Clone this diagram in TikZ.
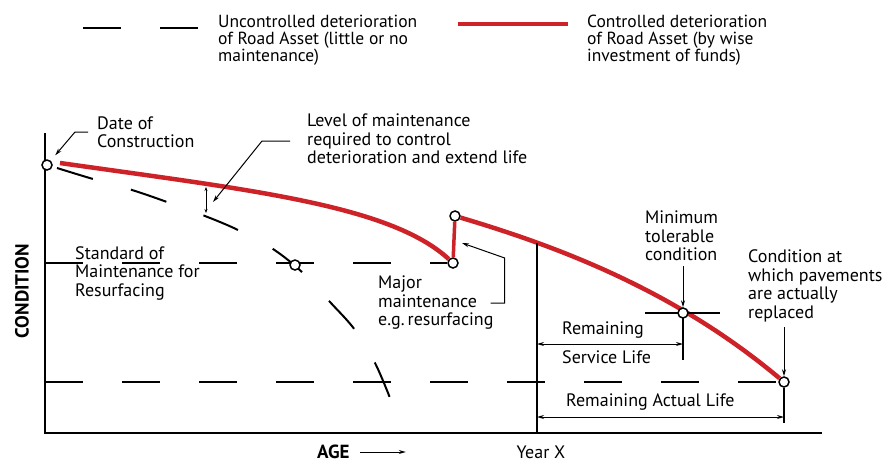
\documentclass[tikz,border=0pt]{standalone}
\usepackage{fontspec}
\setmainfont{PT Sans}
\usepackage{tikz}
\usetikzlibrary{arrows.meta,positioning,calc}
\definecolor{roadred}{RGB}{204,34,40}

\begin{document}
\begin{tikzpicture}[x=1pt,y=-1pt,
  lbl/.style={font=\fontsize{18}{18.5}\selectfont, align=left, anchor=west, inner sep=0pt},
  keylbl/.style={lbl, font=\fontsize{17.5}{17}\selectfont},
  bigcaps/.style={font=\bfseries\fontsize{19}{19}\selectfont, inner sep=0pt},
  ring/.style={circle, draw, line width=1.5pt, fill=white, minimum size=10pt, inner sep=0pt},
  gone/.style={line width=2pt, dash pattern=on 38pt off 39pt},
  kept/.style={line width=4.5pt, roadred},
  leader/.style={line width=1pt, -{Stealth[length=7pt,width=4pt]}},
  dimline/.style={line width=1pt, {Stealth[length=7pt,width=4pt]}-{Stealth[length=7pt,width=4pt]}},
  tickline/.style={line width=1.4pt}]
  \useasboundingbox (0,0) rectangle (892,463);

  % Legend
  \draw[gone] (83,28) -- (199,28);
  \node[keylbl] (keygone) at (218,40) {Uncontrolled deterioration\\of Road Asset (little or no\\maintenance)};
  \draw[kept] (458,24) -- (568,24);
  \node[keylbl] (keykept) at (587,40) {Controlled deterioration\\of Road Asset (by wise\\investment of funds)};

  % Axes
  \coordinate (axtop) at (45,133);
  \coordinate (origin) at (45,433);
  \coordinate (axend) at (822,433);
  \draw[line width=2.2pt] (axtop) -- (origin) -- (axend);
  \node[bigcaps, rotate=90] (condtxt) at (22,291) {CONDITION};
  \node[bigcaps, anchor=west] (agetxt) at (317,452) {AGE};
  \draw[leader] ([xshift=10pt]agetxt.east) -- ++(46,0);
  \node[lbl, anchor=center] (yeartxt) at (541,452) {Year X};

  % Points on the curves
  \node[ring] (built) at (47,165) {};
  \node[ring] (resurf) at (453,263) {};
  \node[ring] (renewed) at (455,216) {};
  \node[ring] (replaced) at (784,382) {};

  % Standard and replacement levels
  \draw[gone] (45,263) -- (resurf);
  \draw[gone] (45,382) -- (replaced);

  % Uncontrolled deterioration
  \draw[gone, dash pattern=on 37.5pt off 39.5pt] plot[smooth, tension=0.6] coordinates {(57,168) (93,179) (132,190) (167,202) (205,216) (238,230) (273,249) (303,273) (330,302) (355,330) (375,363) (390,398)};

  % Controlled deterioration
  \draw[kept] (60,163) .. controls (250,190) and (390,205) .. (resurf);
  \draw[kept, line width=3.5pt] (resurf) -- (renewed);
  \draw[kept] (renewed) .. controls (570,250) and (680,295) .. (replaced);

  % Year X
  \coordinate (yeartop) at (537,243);
  \draw[line width=1.6pt] (yeartop) -- (yeartop |- origin);

  % Minimum tolerable condition
  \coordinate (tolleft) at (645,313);
  \coordinate (tolright) at (720,313);
  \coordinate (tolfoot) at (683,360);
  \draw[tickline] (tolleft) -- (tolright);
  \draw[tickline] (683,313) -- (tolfoot);
  \node[ring] (mintol) at (683,313) {};
  \node[lbl] (mintxt) at (645,236) {Minimum\\tolerable\\condition};
  \draw[leader] ($(mintol |- mintxt.south)+(0,5)$) -- (mintol);

  % Replaced
  \coordinate (replfoot) at (784,423);
  \draw[tickline] (replaced) -- (replfoot);
  \node[lbl] (repltxt) at (748,286) {Condition at\\which pavements\\are actually\\replaced};
  \draw[leader] ($(replaced |- repltxt.south)+(0,5)$) -- (replaced);

  % Remaining lives
  \coordinate (svc) at (600,344);
  \coordinate (act) at (600,417);
  \draw[dimline] (svc -| yeartop) -- (svc -| mintol);
  \node[lbl] (rem1) at (562,330) {Remaining};
  \node[lbl] (rem2) at (562,357) {Service Life};
  \draw[dimline] (act -| yeartop) -- (act -| replaced);
  \node[lbl] (acttxt) at (566,402) {Remaining Actual Life};

  % Date of construction
  \node[lbl] (datetxt) at (97,132) {Date of\\Construction};
  \draw[leader, shorten >=7pt] ([xshift=-9pt]datetxt.west) -- ++(-13,0) -- (built);

  % Level of maintenance
  \node[lbl] (leveltxt) at (307,139) {Level of maintenance\\required to control\\deterioration and extend life};
  \coordinate (levelhit) at (213,202);
  \draw[leader] ([xshift=-17pt,yshift=-2pt]leveltxt.west) -- ++(-28,0) -- (levelhit);
  \coordinate (gaptop) at (206,187);
  \coordinate (gapfoot) at (206,213);
  \draw[line width=0.9pt, {Stealth[length=4pt,width=3pt]}-{Stealth[length=4pt,width=3pt]}] (gaptop) -- (gapfoot);

  % Standard of maintenance
  \node[lbl] (stdtxt) at (75,273) {Standard of\\Maintenance for\\Resurfacing};
  \node[ring] (crossing) at (295,265) {};

  % Major maintenance
  \node[lbl] (majortxt) at (378,303) {Major\\maintenance\\e.g.\,resurfacing};
  \coordinate (majorhit) at (462,243);
  \draw[leader] ([xshift=-3pt]majortxt.east) -- ++(14,0) -- ++(0,-45) -- (majorhit);
\end{tikzpicture}
\end{document}
